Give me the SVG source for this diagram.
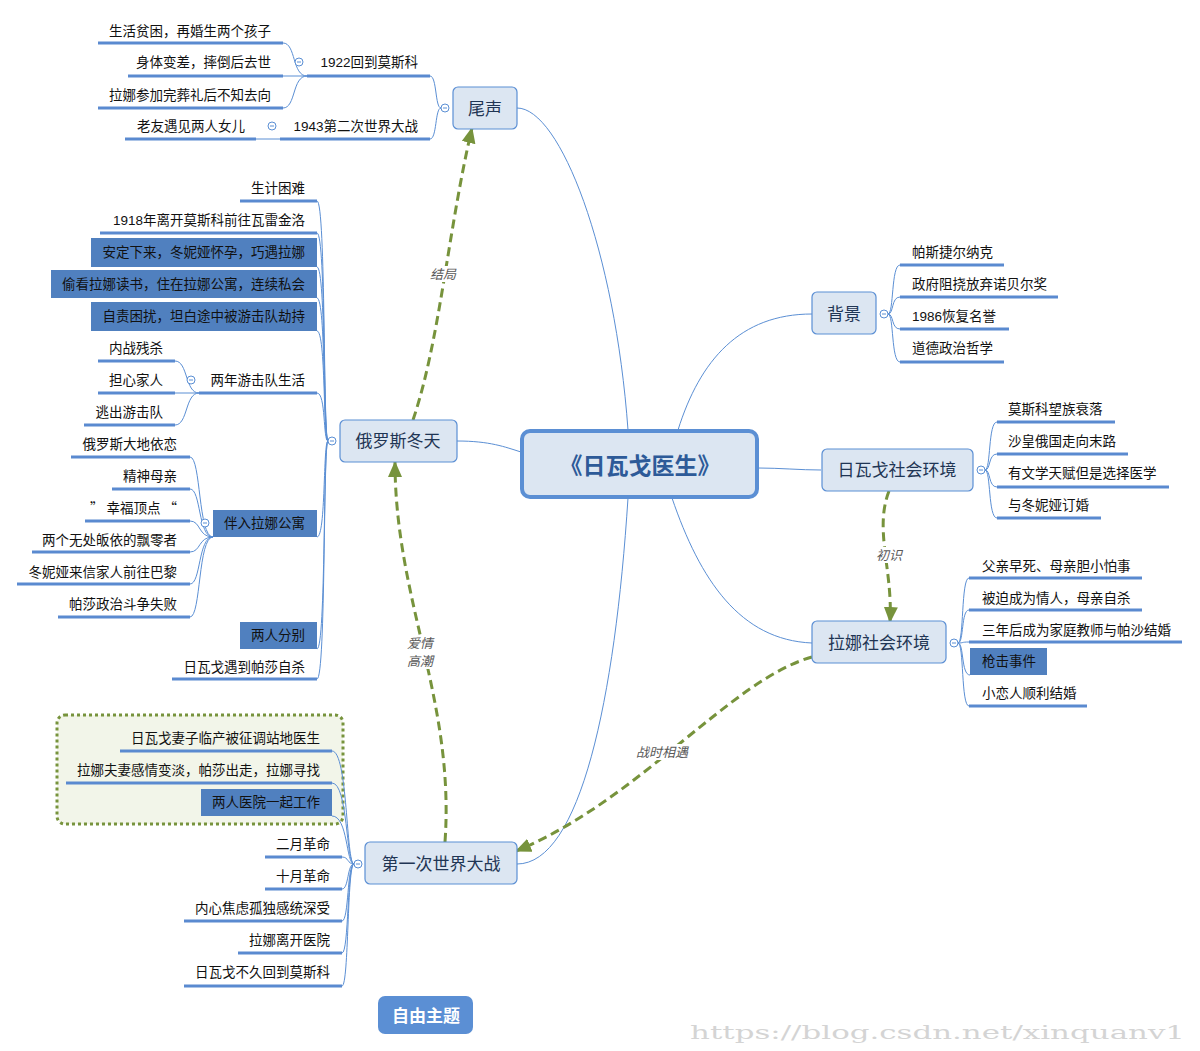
<svg xmlns="http://www.w3.org/2000/svg" width="1200" height="1051" viewBox="0 0 1200 1051">
<defs>
<style>
.t{font-family:"Liberation Sans","Noto Sans CJK SC",sans-serif;font-size:13.5px;fill:#111}
.e{text-anchor:end}
.m{font-family:"Liberation Sans","Noto Sans CJK SC",sans-serif;font-size:17px;fill:#1f3554;text-anchor:middle}
.nb{fill:#dce6f2;stroke:#5b8fd4;stroke-width:1.2}
.ul{stroke:#5a8ad0;stroke-width:3;fill:none}
.fb{fill:#5080bf}
.c{fill:none;stroke:#5b8fd4;stroke-width:1}
.col{fill:#fff;stroke:#5b8fd4;stroke-width:1}
.da{fill:none;stroke:#77933c;stroke-width:3;stroke-dasharray:9 5}
.lb{font-family:"Liberation Sans","Noto Sans CJK SC",sans-serif;font-size:13px;font-style:italic;fill:#595959;text-anchor:middle}
.lbg{fill:#fff}
</style>
<marker id="ah" viewBox="0 0 16 14" refX="15" refY="7" markerWidth="16" markerHeight="14" markerUnits="userSpaceOnUse" orient="auto">
<path d="M0,0 L16,7 L0,14 Z" fill="#77933c"/>
</marker>
<g id="colsym"><circle class="col" cx="0" cy="0" r="4"/><path d="M-2,0 H2" stroke="#5b8fd4" stroke-width="1"/></g>
</defs>
<rect width="1200" height="1051" fill="#fff"/>

<!-- group box -->
<rect x="57" y="715" width="286" height="109" rx="8" fill="#f2f5e9" stroke="#77933c" stroke-width="3" stroke-dasharray="3 3"/>

<g id="connectors">
<path class="c" d="M517,108 C560,108 615,250 628,430"/>
<path class="c" d="M678,430 C700,360 740,314 812,314"/>
<path class="c" d="M758,468 C780,468 800,470 821,470"/>
<path class="c" d="M672,498 C700,580 740,640 812,643"/>
<path class="c" d="M457,441 C490,441 505,447 521,452"/>
<path class="c" d="M628,498 C615,700 580,864 517,864"/>
<!-- 尾声 -->
<path class="c" d="M441,108 C435,108 437,76 430,76"/>
<path class="c" d="M441,108 C435,108 437,139 430,139"/>
<path class="c" d="M307,76 C292,76 296,43 283,43"/>
<path class="c" d="M307,76 H283"/>
<path class="c" d="M307,76 C292,76 296,108 283,108"/>
<path class="c" d="M280,139 H256"/>
<!-- 俄罗斯冬天 -->
<path class="c" d="M328,441 C323,441 326,201 317,201"/>
<path class="c" d="M328,441 C323,441 326,233 317,233"/>
<path class="c" d="M328,441 C323,441 326,267 317,267"/>
<path class="c" d="M328,441 C323,441 326,298 317,298"/>
<path class="c" d="M328,441 C323,441 326,331 317,331"/>
<path class="c" d="M328,441 C323,441 326,393 317,393"/>
<path class="c" d="M328,441 C323,441 326,537 317,537"/>
<path class="c" d="M328,441 C323,441 326,649 317,649"/>
<path class="c" d="M328,441 C323,441 326,679 317,679"/>
<path class="c" d="M199,393 C185,393 188,361 175,361"/>
<path class="c" d="M199,393 H175"/>
<path class="c" d="M199,393 C185,393 188,425 175,425"/>
<path class="c" d="M213,537 C198,537 201,457 190,457"/>
<path class="c" d="M213,537 C198,537 201,489 190,489"/>
<path class="c" d="M213,537 C198,537 201,521 190,521"/>
<path class="c" d="M213,537 C198,537 201,552 190,552"/>
<path class="c" d="M213,537 C198,537 201,584 190,584"/>
<path class="c" d="M213,537 C198,537 201,617 190,617"/>
<!-- 第一次世界大战 -->
<path class="c" d="M354,864 C346,864 348,751 332,751"/>
<path class="c" d="M354,864 C346,864 348,783 332,783"/>
<path class="c" d="M354,864 C346,864 348,816 332,816"/>
<path class="c" d="M354,864 C347,864 349,857 342,857"/>
<path class="c" d="M354,864 C347,864 349,889 342,889"/>
<path class="c" d="M354,864 C347,864 349,921 342,921"/>
<path class="c" d="M354,864 C347,864 349,953 342,953"/>
<path class="c" d="M354,864 C347,864 349,986 342,986"/>
<!-- 背景 -->
<path class="c" d="M888,314 C894,314 891,265 900,265"/>
<path class="c" d="M888,314 C894,314 891,297 900,297"/>
<path class="c" d="M888,314 C894,314 891,329 900,329"/>
<path class="c" d="M888,314 C894,314 891,362 900,362"/>
<!-- 日瓦戈社会环境 -->
<path class="c" d="M985,470 C991,470 988,422 997,422"/>
<path class="c" d="M985,470 C991,470 988,454 997,454"/>
<path class="c" d="M985,470 C991,470 988,487 997,487"/>
<path class="c" d="M985,470 C991,470 988,518 997,518"/>
<!-- 拉娜社会环境 -->
<path class="c" d="M958,643 C964,643 961,578 969,578"/>
<path class="c" d="M958,643 C964,643 961,610 969,610"/>
<path class="c" d="M958,643 C964,643 961,642 969,642"/>
<path class="c" d="M958,643 C964,643 961,675 970,675"/>
<path class="c" d="M958,643 C964,643 961,706 969,706"/>
<!-- relationship arrows -->
<path class="da" d="M413,420 C440,340 448,230 472,128" marker-end="url(#ah)"/>
<path class="da" d="M889,491 C874,530 893,570 890,622" marker-end="url(#ah)"/>
<path class="da" d="M812,657 C730,680 640,800 516,851" marker-end="url(#ah)"/>
<path class="da" d="M445,842 C455,700 395,600 395,462" marker-end="url(#ah)"/>
<rect class="lbg" x="429" y="266" width="28" height="16"/>
<rect class="lbg" x="875" y="547" width="28" height="16"/>
<rect class="lbg" x="635" y="744" width="54" height="16"/>
<rect class="lbg" x="406" y="635" width="28" height="34"/>
<text class="lb" x="443" y="279">结局</text>
<text class="lb" x="889" y="560">初识</text>
<text class="lb" x="662" y="757">战时相遇</text>
<text class="lb" x="420" y="648">爱情</text>
<text class="lb" x="420" y="666">高潮</text>
</g>

<g id="central">
<rect x="522" y="431" width="235" height="66" rx="8" fill="#dce6f2" stroke="#5b8fd4" stroke-width="4"/>
<text x="640" y="474" text-anchor="middle" font-family="Liberation Sans,Noto Sans CJK SC,sans-serif" font-size="23" font-weight="bold" fill="#2d5a98">《日瓦戈医生》</text>
</g>

<g id="n-weisheng">
<rect class="nb" x="453" y="87" width="64" height="42" rx="5"/>
<text class="m" x="485" y="115">尾声</text>
<use href="#colsym" x="445" y="108"/>
</g>
<g id="n-1922">
<text class="t e" x="418" y="67">1922回到莫斯科</text>
<path class="ul" d="M307,76 H430"/>
<use href="#colsym" x="299" y="62"/>
</g>
<g id="n-1922-1"><text class="t e" x="271" y="36">生活贫困，再婚生两个孩子</text><path class="ul" d="M98,43 H283"/></g>
<g id="n-1922-2"><text class="t e" x="271" y="67">身体变差，摔倒后去世</text><path class="ul" d="M128,76 H283"/></g>
<g id="n-1922-3"><text class="t e" x="271" y="100">拉娜参加完葬礼后不知去向</text><path class="ul" d="M98,108 H283"/></g>
<g id="n-1943">
<text class="t e" x="418" y="131">1943第二次世界大战</text>
<path class="ul" d="M280,139 H430"/>
<use href="#colsym" x="272" y="126"/>
</g>
<g id="n-1943-1"><text class="t e" x="245" y="131">老友遇见两人女儿</text><path class="ul" d="M125,139 H256"/></g>

<g id="n-eluosi">
<rect class="nb" x="340" y="420" width="117" height="42" rx="5"/>
<text class="m" x="398" y="447">俄罗斯冬天</text>
<use href="#colsym" x="332" y="441"/>
</g>
<g id="n-e1"><text class="t e" x="305" y="193">生计困难</text><path class="ul" d="M240,201 H317"/></g>
<g id="n-e2"><text class="t e" x="305" y="225">1918年离开莫斯科前往瓦雷金洛</text><path class="ul" d="M100,233 H317"/></g>
<g id="n-e3"><rect class="fb" x="91" y="238" width="226" height="29"/><text class="t e" x="305" y="257">安定下来，冬妮娅怀孕，巧遇拉娜</text></g>
<g id="n-e4"><rect class="fb" x="51" y="270" width="266" height="28"/><text class="t e" x="305" y="289">偷看拉娜读书，住在拉娜公寓，连续私会</text></g>
<g id="n-e5"><rect class="fb" x="91" y="302" width="226" height="29"/><text class="t e" x="305" y="321">自责困扰，坦白途中被游击队劫持</text></g>
<g id="n-e6">
<text class="t e" x="305" y="385">两年游击队生活</text>
<path class="ul" d="M199,393 H317"/>
<use href="#colsym" x="191" y="380"/>
</g>
<g id="n-e6-1"><text class="t e" x="163" y="353">内战残杀</text><path class="ul" d="M98,361 H175"/></g>
<g id="n-e6-2"><text class="t e" x="163" y="385">担心家人</text><path class="ul" d="M98,393 H175"/></g>
<g id="n-e6-3"><text class="t e" x="163" y="417">逃出游击队</text><path class="ul" d="M84,425 H175"/></g>
<g id="n-e7">
<rect class="fb" x="213" y="510" width="104" height="27"/>
<text class="t e" x="305" y="528">伴入拉娜公寓</text>
<use href="#colsym" x="205" y="523"/>
</g>
<g id="n-e7-1"><text class="t e" x="177" y="449">俄罗斯大地依恋</text><path class="ul" d="M71,457 H190"/></g>
<g id="n-e7-2"><text class="t e" x="177" y="481">精神母亲</text><path class="ul" d="M112,489 H190"/></g>
<g id="n-e7-3"><text class="t e" x="177" y="513" style="font-family:'Noto Sans CJK SC',sans-serif">” 幸福顶点 “</text><path class="ul" d="M85,521 H190"/></g>
<g id="n-e7-4"><text class="t e" x="177" y="545">两个无处皈依的飘零者</text><path class="ul" d="M32,552 H190"/></g>
<g id="n-e7-5"><text class="t e" x="177" y="577">冬妮娅来信家人前往巴黎</text><path class="ul" d="M17,584 H190"/></g>
<g id="n-e7-6"><text class="t e" x="177" y="609">帕莎政治斗争失败</text><path class="ul" d="M58,617 H190"/></g>
<g id="n-e8"><rect class="fb" x="240" y="622" width="77" height="27"/><text class="t e" x="305" y="640">两人分别</text></g>
<g id="n-e9"><text class="t e" x="305" y="672">日瓦戈遇到帕莎自杀</text><path class="ul" d="M172,679 H317"/></g>

<g id="n-ww1">
<rect class="nb" x="365" y="842" width="152" height="42" rx="5"/>
<text class="m" x="441" y="870">第一次世界大战</text>
<use href="#colsym" x="358" y="864"/>
</g>
<g id="n-w1"><text class="t e" x="320" y="743">日瓦戈妻子临产被征调站地医生</text><path class="ul" d="M120,751 H332"/></g>
<g id="n-w2"><text class="t e" x="320" y="775">拉娜夫妻感情变淡，帕莎出走，拉娜寻找</text><path class="ul" d="M66,783 H332"/></g>
<g id="n-w3"><rect class="fb" x="201" y="789" width="131" height="27"/><text class="t e" x="320" y="807">两人医院一起工作</text></g>
<g id="n-w4"><text class="t e" x="330" y="849">二月革命</text><path class="ul" d="M265,857 H342"/></g>
<g id="n-w5"><text class="t e" x="330" y="881">十月革命</text><path class="ul" d="M265,889 H342"/></g>
<g id="n-w6"><text class="t e" x="330" y="913">内心焦虑孤独感统深受</text><path class="ul" d="M184,921 H342"/></g>
<g id="n-w7"><text class="t e" x="330" y="945">拉娜离开医院</text><path class="ul" d="M238,953 H342"/></g>
<g id="n-w8"><text class="t e" x="330" y="977">日瓦戈不久回到莫斯科</text><path class="ul" d="M184,986 H342"/></g>

<g id="n-beijing">
<rect class="nb" x="812" y="292" width="64" height="42" rx="5"/>
<text class="m" x="844" y="320">背景</text>
<use href="#colsym" x="884" y="314"/>
</g>
<g id="n-b1"><text class="t" x="912" y="257">帕斯捷尔纳克</text><path class="ul" d="M900,265 H1004"/></g>
<g id="n-b2"><text class="t" x="912" y="289">政府阻挠放弃诺贝尔奖</text><path class="ul" d="M900,297 H1058"/></g>
<g id="n-b3"><text class="t" x="912" y="321">1986恢复名誉</text><path class="ul" d="M900,329 H1009"/></g>
<g id="n-b4"><text class="t" x="912" y="353">道德政治哲学</text><path class="ul" d="M900,362 H1004"/></g>

<g id="n-zhivago">
<rect class="nb" x="822" y="449" width="151" height="42" rx="5"/>
<text class="m" x="897" y="476">日瓦戈社会环境</text>
<use href="#colsym" x="981" y="470"/>
</g>
<g id="n-z1"><text class="t" x="1008" y="414">莫斯科望族衰落</text><path class="ul" d="M997,422 H1115"/></g>
<g id="n-z2"><text class="t" x="1008" y="446">沙皇俄国走向末路</text><path class="ul" d="M997,454 H1128"/></g>
<g id="n-z3"><text class="t" x="1008" y="478">有文学天赋但是选择医学</text><path class="ul" d="M997,487 H1169"/></g>
<g id="n-z4"><text class="t" x="1008" y="510">与冬妮娅订婚</text><path class="ul" d="M997,518 H1101"/></g>

<g id="n-lara">
<rect class="nb" x="812" y="621" width="134" height="42" rx="5"/>
<text class="m" x="879" y="649">拉娜社会环境</text>
<use href="#colsym" x="954" y="643"/>
</g>
<g id="n-l1"><text class="t" x="982" y="571">父亲早死、母亲胆小怕事</text><path class="ul" d="M969,578 H1142"/></g>
<g id="n-l2"><text class="t" x="982" y="603">被迫成为情人，母亲自杀</text><path class="ul" d="M969,610 H1142"/></g>
<g id="n-l3"><text class="t" x="982" y="635">三年后成为家庭教师与帕沙结婚</text><path class="ul" d="M969,642 H1182"/></g>
<g id="n-l4"><rect class="fb" x="970" y="648" width="77" height="27"/><text class="t" x="982" y="666">枪击事件</text></g>
<g id="n-l5"><text class="t" x="982" y="698">小恋人顺利结婚</text><path class="ul" d="M969,706 H1087"/></g>

<g id="n-free">
<rect x="378" y="996" width="95" height="38" rx="7" fill="#5b8fd4"/>
<text x="426" y="1022" text-anchor="middle" font-family="Liberation Sans,Noto Sans CJK SC,sans-serif" font-size="17" font-weight="bold" fill="#fff">自由主题</text>
</g>

<text x="690" y="1039" font-family="DejaVu Serif,serif" font-size="19" fill="#d4d4d4" textLength="495" lengthAdjust="spacingAndGlyphs">https://blog.csdn.net/xinquanv1</text>
</svg>
